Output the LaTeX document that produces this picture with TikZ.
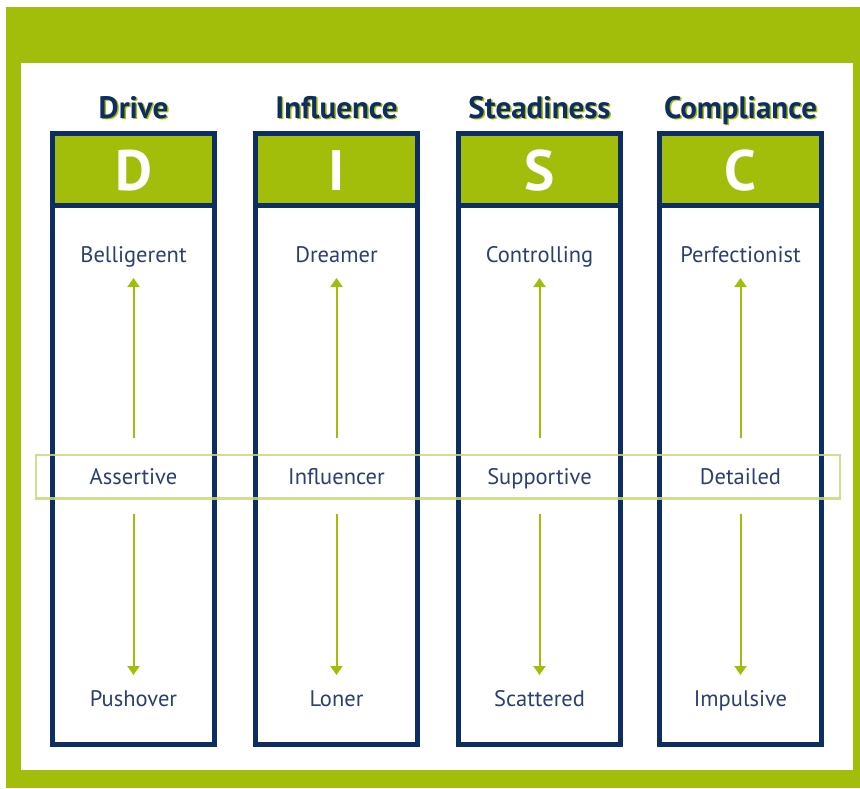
\documentclass[tikz,border=0pt]{standalone}
\usepackage{fontspec}
\setmainfont{PT Sans}
\usetikzlibrary{arrows.meta}
\definecolor{discgreen}{HTML}{A3BD0B}
\definecolor{bandgreen}{HTML}{C9D97A}
\definecolor{navy}{HTML}{0E2D62}
\definecolor{labelblue}{HTML}{2C3F6E}
\tikzset{
  colbox/.style={draw=navy, line width=5pt, fill=white},
  headbox/.style={draw=navy, line width=5pt, fill=discgreen},
  titletext/.style={font=\fontsize{31}{34}\selectfont\bfseries, text=navy, inner sep=0pt, anchor=base},
  titleshadow/.style={font=\fontsize{31}{34}\selectfont\bfseries, text=discgreen, inner sep=0pt, anchor=base},
  lettertext/.style={font=\fontsize{57}{60}\selectfont\bfseries, text=white, inner sep=0pt, anchor=base},
  labeltext/.style={font=\fontsize{22.5}{26}\selectfont, text=labelblue, inner sep=0pt, anchor=base},
  arrowline/.style={draw=discgreen, line width=2pt, -{Triangle[width=12pt,length=9pt]}},
  band/.style={draw=bandgreen, line width=2.5pt, opacity=0.85}
}
\begin{document}
\begin{tikzpicture}[x=1pt,y=-1pt]
\useasboundingbox (0,0) rectangle (860,788);
\fill[white] (0,0) rectangle (860,788);
\fill[discgreen] (6,7) rectangle (860,788);
\fill[white] (21,63) rectangle (853,770);
\foreach \cx/\ttl/\ltr/\top/\mid/\bot/\nm in {
  133.5/Drive/D/Belligerent/Assertive/Pushover/d,
  336.5/Influence/I/Dreamer/Influencer/Loner/i,
  539.5/Steadiness/S/Controlling/Supportive/Scattered/s,
  740.5/Compliance/C/Perfectionist/Detailed/Impulsive/c}{
  \draw[colbox] (\cx-81,133.5) rectangle (\cx+81,744.5);
  \draw[headbox] (\cx-81,133.5) rectangle (\cx+81,205);
  \node[titleshadow] (\nm shadow) at (\cx+1.5,119.5) {\ttl};
  \node[titletext] (\nm title) at (\cx,118) {\ttl};
  \node[lettertext] (\nm letter) at (\cx,190) {\ltr};
  \node[labeltext] (\nm top) at (\cx,262.5) {\top};
  \node[labeltext] (\nm mid) at (\cx,484) {\mid};
  \node[labeltext] (\nm bot) at (\cx,706) {\bot};
  \coordinate (\nm a1) at (\cx,438);
  \coordinate (\nm a2) at (\cx,278);
  \coordinate (\nm b1) at (\cx,514);
  \coordinate (\nm b2) at (\cx,675);
  \draw[arrowline] (\nm a1) -- (\nm a2);
  \draw[arrowline] (\nm b1) -- (\nm b2);
}
\draw[band] (36,455) rectangle (840,498.5);
\end{tikzpicture}
\end{document}
